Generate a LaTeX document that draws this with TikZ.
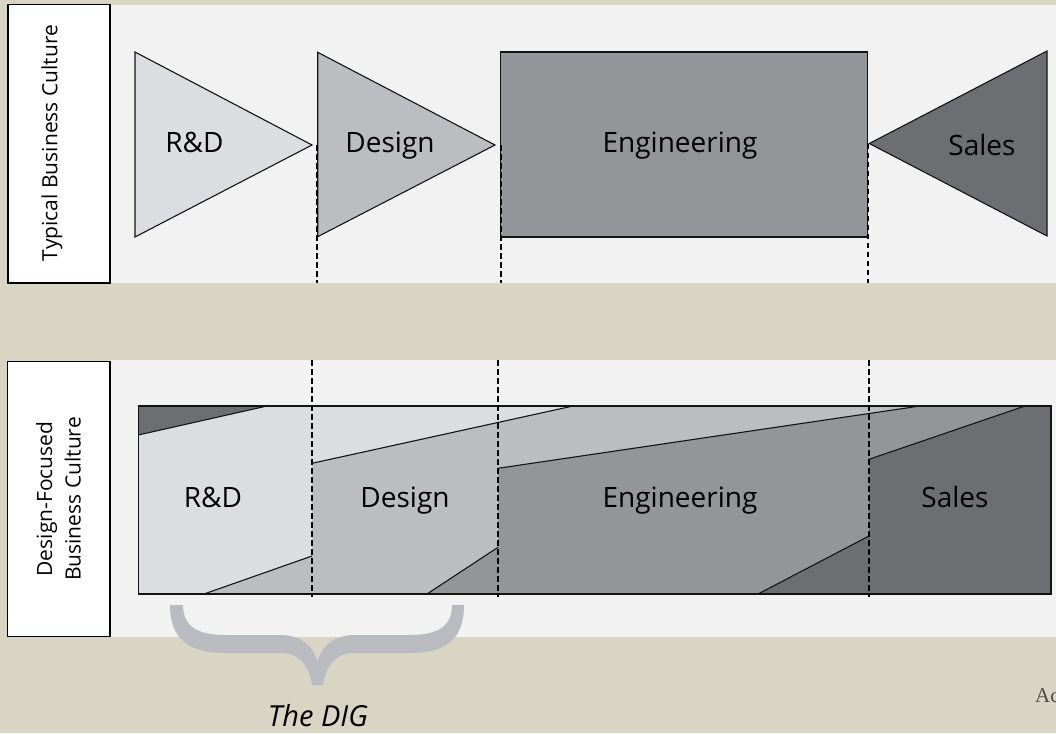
\documentclass[tikz,border=0pt]{standalone}
\usepackage{fontspec}
\setmainfont{Open Sans}
\newfontfamily\notefont{Liberation Serif}
\definecolor{paper}{RGB}{216,213,196}
\definecolor{band}{RGB}{242,242,242}
\definecolor{rdgray}{RGB}{220,221,224}
\definecolor{dsgray}{RGB}{188,189,193}
\definecolor{enggray}{RGB}{147,149,152}
\definecolor{salesgray}{RGB}{109,110,114}
\definecolor{bracegray}{RGB}{186,187,192}
\definecolor{inkline}{RGB}{20,20,20}
\definecolor{notecolor}{RGB}{85,75,65}
\begin{document}
\begin{tikzpicture}[x=1pt,y=-1pt,
  outline/.style={draw=inkline,line width=1.1pt,line join=miter},
  divider/.style={draw=black,line width=2pt,dash pattern=on 5.5pt off 3.5pt},
  labelbox/.style={draw=black,line width=1.2pt,fill=white},
  sidetext/.style={rotate=90,font=\fontsize{21}{28.5}\selectfont,align=center,inner sep=0pt},
  stagetext/.style={font=\fontsize{28}{30}\selectfont,anchor=base,inner sep=0pt}]
\useasboundingbox (0,0) rectangle (1056,733);

% paper and the two bands
\fill[paper] (0,0) rectangle (1056,733);
\fill[band] (110,5) rectangle (1056,283);
\fill[band] (110,360) rectangle (1056,636.5);

% side labels
\draw[labelbox] (8,4.5) rectangle (110,283);
\node[sidetext] (typical) at (52,143) {Typical Business Culture};
\draw[labelbox] (7.5,361.5) rectangle (110,636.5);
\node[sidetext] (focused) at (58.5,499) {Design-Focused\\Business Culture};

% ---------- typical culture: hand-offs ----------
\coordinate (rdA) at (135,52);
\coordinate (rdB) at (135,237);
\coordinate (rdTip) at (312,145);
\coordinate (dsA) at (317.7,52.3);
\coordinate (dsB) at (317.7,236.7);
\coordinate (dsTip) at (495,145);
\coordinate (enA) at (500.7,52);
\coordinate (enB) at (867.7,237);
\coordinate (saTip) at (869.3,143.5);
\coordinate (saA) at (1047,51);
\coordinate (saB) at (1047,236);

\path[outline,fill=rdgray] (rdA) -- (rdTip) -- (rdB) -- cycle;
\path[outline,fill=dsgray] (dsA) -- (dsTip) -- (dsB) -- cycle;
\path[outline,fill=enggray] (enA) rectangle (enB);
\path[outline,fill=salesgray] (saTip) -- (saA) -- (saB) -- cycle;

\node[stagetext] (rdTop) at (194.5,152.7) {R\&D};
\node[stagetext] (dsTop) at (390,152.7) {Design};
\node[stagetext] (enTop) at (680,152.7) {Engineering};
\node[stagetext] (saTop) at (982,155) {Sales};

\coordinate (d1a) at (317.3,145);  \coordinate (d1b) at (317.3,283);
\coordinate (d2a) at (500.5,145);  \coordinate (d2b) at (500.5,283);
\coordinate (d3a) at (868,143.5);  \coordinate (d3b) at (868,283);
\draw[divider] (d1a) -- (d1b);
\draw[divider] (d2a) -- (d2b);
\draw[divider] (d3a) -- (d3b);

% ---------- design-focused culture: overlapping stages ----------
\coordinate (bTL) at (138.3,406);
\coordinate (bBR) at (1051,594);
\fill[salesgray] (bTL) rectangle (bBR);
% R&D
\fill[rdgray] (138.3,435) -- (267,406) -- (573,406) -- (312,463.3) -- (312,556)
  -- (204,594) -- (138.3,594) -- cycle;
% Design
\fill[dsgray] (312,463.3) -- (573,406) -- (920,406) -- (498,468.3) -- (498,547.3)
  -- (427,594) -- (204,594) -- (312,556) -- cycle;
% Engineering
\fill[enggray] (498,468.3) -- (920,406) -- (1025,406) -- (869,459.3) -- (869,536)
  -- (758,594) -- (427,594) -- (498,547.3) -- cycle;
% boundaries between stages
\draw[outline] (138.3,435) -- (267,406);
\draw[outline] (312,463.3) -- (573,406);
\draw[outline] (498,468.3) -- (920,406);
\draw[outline] (869,459.3) -- (1025,406);
\draw[outline] (204,594) -- (312,556);
\draw[outline] (427,594) -- (498,547.3);
\draw[outline] (758,594) -- (869,536);
\draw[outline] (bTL) rectangle (bBR);

\node[stagetext] (rdBot) at (213,507.3) {R\&D};
\node[stagetext] (dsBot) at (405,507.3) {Design};
\node[stagetext] (enBot) at (680,507.3) {Engineering};
\node[stagetext] (saBot) at (955,507.3) {Sales};

\coordinate (e1a) at (312.3,360);  \coordinate (e1b) at (312.3,597);
\coordinate (e2a) at (497.8,360);  \coordinate (e2b) at (497.8,597);
\coordinate (e3a) at (869.3,360);  \coordinate (e3b) at (869.3,597);
\draw[divider] (e1a) -- (e1b);
\draw[divider] (e2a) -- (e2b);
\draw[divider] (e3a) -- (e3b);

% brace under R&D and Design
\fill[bracegray] (170,605) .. controls (170,640) and (190,653) .. (225,653)
  -- (282,653) .. controls (300,653) and (310,668) .. (312,685)
  -- (323,685) .. controls (325,668) and (335,653) .. (353,653)
  -- (410,653) .. controls (445,653) and (464,640) .. (464,605)
  -- (452,605) .. controls (452,626) and (438,635) .. (410,635)
  -- (355,635) .. controls (335,635) and (322,645) .. (317.5,662)
  .. controls (313,645) and (300,635) .. (280,635)
  -- (225,635) .. controls (197,635) and (183,626) .. (183,605) -- cycle;
\node[font=\fontsize{29}{30}\selectfont\itshape,anchor=base,inner sep=0pt] (dig) at (318,726) {The DIG};

% note at the lower right edge
\node[font=\notefont\fontsize{21}{24}\selectfont,text=notecolor,anchor=base west,inner sep=0pt] (note) at (1035,702) {Ac};
\end{tikzpicture}
\end{document}
